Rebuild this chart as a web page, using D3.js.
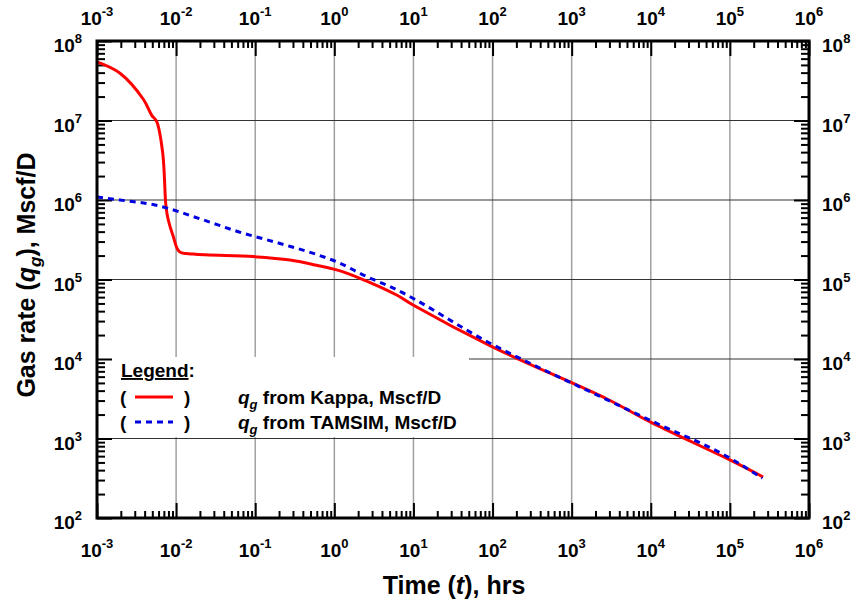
<!DOCTYPE html>
<html>
<head>
<meta charset="utf-8">
<script src="https://cdn.jsdelivr.net/npm/d3@7"></script>
<style>
  body { margin: 0; background: #fff; }
  text { font-family: "Liberation Sans", Arial, sans-serif; font-weight: bold; fill: #000; }
</style>
</head>
<body>
<svg id="chart" width="854" height="603"></svg>
<script>
// red curve: qg from Kappa
const tKappa = [1e-3, 1.954e-3, 3.85e-3, 4.9e-3, 5.69e-3, 6.78e-3, 7.45e-3, 7.96e-3, 9.23e-3, 0.011, 0.0165, 0.0946, 0.275, 0.598, 1.07, 2.11, 6.14, 9.89, 101, 2800, 1.04e4, 1.0e5, 2.63e5];
const qKappa = [5.45e7, 3.93e7, 1.85e7, 1.17e7, 9.66e6, 3.86e6, 8.24e5, 5.6e5, 3.45e5, 2.24e5, 2.09e5, 1.94e5, 1.76e5, 1.51e5, 1.32e5, 1.035e5, 6.38e4, 4.78e4, 1.41e4, 3.14e3, 1.57e3, 537, 328];

// blue dashed curve: qg from TAMSIM
const tTamsim = [1e-3, 1.95e-3, 5.41e-3, 0.021, 0.0611, 0.216, 0.628, 1.07, 2.56, 5.06, 93, 2500, 1.04e4, 1.1e5, 2.57e5];
const qTamsim = [1.09e6, 1.0e6, 8.65e5, 5.71e5, 3.99e5, 2.8e5, 2.03e5, 1.67e5, 1.09e5, 8.13e4, 1.58e4, 3.24e3, 1.65e3, 537, 316];

// axis decades
const xDecades = [-3, -2, -1, 0, 1, 2, 3, 4, 5, 6];
const yDecades = [2, 3, 4, 5, 6, 7, 8];

const legendItems = ['from Kappa, Mscf/D', 'from TAMSIM, Mscf/D'];

const margin = { left: 97, right: 45, top: 41, bottom: 85 };
const W = 854, H = 603;

const svg = d3.select('#chart');

const x = d3.scaleLog()
  .domain([1e-3, 1e6])
  .range([margin.left, W - margin.right]);
const y = d3.scaleLog()
  .domain([1e2, 1e8])
  .range([H - margin.bottom, margin.top]);

const x0 = x.range()[0], x1 = x.range()[1];
const y0 = y.range()[1], y1 = y.range()[0];

// minor tick values (2..9 per decade)
const minorX = [], minorY = [];
xDecades.slice(0, -1).forEach(d => { for (let k = 2; k <= 9; k++) minorX.push(k * Math.pow(10, d)); });
yDecades.slice(0, -1).forEach(d => { for (let k = 2; k <= 9; k++) minorY.push(k * Math.pow(10, d)); });
const majorX = xDecades.map(d => Math.pow(10, d));
const majorY = yDecades.map(d => Math.pow(10, d));

// grid
const grid = svg.append('g').attr('id', 'grid');
grid.selectAll('line.vgrid')
  .data(majorX.slice(1, -1))
  .enter().append('line')
  .attr('x1', d => x(d)).attr('x2', d => x(d))
  .attr('y1', y0).attr('y2', y1)
  .attr('stroke', '#a0a0a0').attr('stroke-width', 1.5);
grid.selectAll('line.hgrid')
  .data(majorY.slice(1, -1))
  .enter().append('line')
  .attr('x1', x0).attr('x2', x1)
  .attr('y1', d => y(d)).attr('y2', d => y(d))
  .attr('stroke', '#333').attr('stroke-width', 1);

// legend background hides the grid
svg.append('rect')
  .attr('x', x0 + 1).attr('y', 357)
  .attr('width', 371).attr('height', 80)
  .attr('fill', '#fff');

// ticks (inward on all four sides)
function addAxis(axisFn, scale, values, size, transform) {
  const g = svg.append('g')
    .attr('transform', transform)
    .call(axisFn(scale).tickValues(values).tickSize(size).tickFormat(''));
  g.select('.domain').remove();
  g.selectAll('.tick line').attr('stroke', '#000').attr('stroke-width', 2);
}
addAxis(d3.axisBottom, x, minorX, -7, `translate(0,${y1})`);
addAxis(d3.axisBottom, x, majorX, -15, `translate(0,${y1})`);
addAxis(d3.axisTop, x, minorX, -7, `translate(0,${y0})`);
addAxis(d3.axisTop, x, majorX, -15, `translate(0,${y0})`);
addAxis(d3.axisLeft, y, minorY, -8, `translate(${x0},0)`);
addAxis(d3.axisLeft, y, majorY, -15, `translate(${x0},0)`);
addAxis(d3.axisRight, y, minorY, -8, `translate(${x1},0)`);
addAxis(d3.axisRight, y, majorY, -15, `translate(${x1},0)`);

// curves
const lineRed = d3.line()
  .x(d => x(d[0]))
  .y(d => y(d[1]))
  .curve(d3.curveCatmullRom.alpha(0.5));
const lineBlue = d3.line()
  .x(d => x(d[0]))
  .y(d => y(d[1]))
  .curve(d3.curveMonotoneX);

const plot = svg.append('g');
plot.append('path')
  .datum(d3.zip(tKappa, qKappa))
  .attr('d', lineRed)
  .attr('fill', 'none')
  .attr('stroke', '#ff0000')
  .attr('stroke-width', 3)
  .attr('stroke-linejoin', 'round');
plot.append('path')
  .datum(d3.zip(tTamsim, qTamsim))
  .attr('d', lineBlue)
  .attr('fill', 'none')
  .attr('stroke', '#0000e0')
  .attr('stroke-width', 3)
  .attr('stroke-dasharray', '6,5');

// frame
svg.append('rect')
  .attr('x', x0).attr('y', y0)
  .attr('width', x1 - x0).attr('height', y1 - y0)
  .attr('fill', 'none')
  .attr('stroke', '#000')
  .attr('stroke-width', 3);

// power-of-ten labels
function powLabel(g, px, py, exp, anchor) {
  const t = g.append('text')
    .attr('x', px).attr('y', py)
    .attr('text-anchor', anchor)
    .style('font-size', '19px');
  t.append('tspan').text('10');
  t.append('tspan').attr('dy', -9).style('font-size', '13px').text(exp);
}
const labels = svg.append('g');
xDecades.forEach(d => {
  powLabel(labels, x(Math.pow(10, d)), 557, d, 'middle');
  powLabel(labels, x(Math.pow(10, d)), 25, d, 'middle');
});
yDecades.forEach(d => {
  powLabel(labels, 82, y(Math.pow(10, d)) + 11, d, 'end');
  powLabel(labels, 822, y(Math.pow(10, d)) + 11, d, 'start');
});

// axis titles
const xt = svg.append('text')
  .attr('x', 454).attr('y', 594)
  .attr('text-anchor', 'middle')
  .style('font-size', '25px');
xt.append('tspan').text('Time (');
xt.append('tspan').style('font-style', 'italic').text('t');
xt.append('tspan').text('), hrs');

const yt = svg.append('text')
  .attr('transform', 'translate(35,275) rotate(-90)')
  .attr('text-anchor', 'middle')
  .style('font-size', '25px');
yt.append('tspan').text('Gas rate (');
yt.append('tspan').style('font-style', 'italic').text('q');
yt.append('tspan').style('font-style', 'italic').style('font-size', '17px').attr('dy', 6).text('g');
yt.append('tspan').attr('dy', -6).text('), Mscf/D');

// legend
const lg = svg.append('g');
const lt = lg.append('text').attr('x', 121).attr('y', 377).style('font-size', '19px');
lt.append('tspan').style('text-decoration', 'underline').text('Legend');
lt.append('tspan').text(':');

const legendStyles = [
  { color: '#ff0000', dash: null },
  { color: '#0000e0', dash: '6,5' }
];
legendItems.forEach((label, i) => {
  const cy = 397 + i * 25;
  lg.append('text').attr('x', 120).attr('y', cy + 7).style('font-size', '19px').text('(');
  lg.append('text').attr('x', 184).attr('y', cy + 7).style('font-size', '19px').text(')');
  lg.append('line')
    .attr('x1', 135).attr('x2', 173)
    .attr('y1', cy).attr('y2', cy)
    .attr('stroke', legendStyles[i].color)
    .attr('stroke-width', 3)
    .attr('stroke-dasharray', legendStyles[i].dash);
  const t = lg.append('text').attr('x', 238).attr('y', cy + 7).style('font-size', '19px');
  t.append('tspan').style('font-style', 'italic').text('q');
  t.append('tspan').style('font-style', 'italic').style('font-size', '13px').attr('dy', 5).text('g');
  t.append('tspan').attr('dy', -5).text(' ' + label);
});
</script>
</body>
</html>
